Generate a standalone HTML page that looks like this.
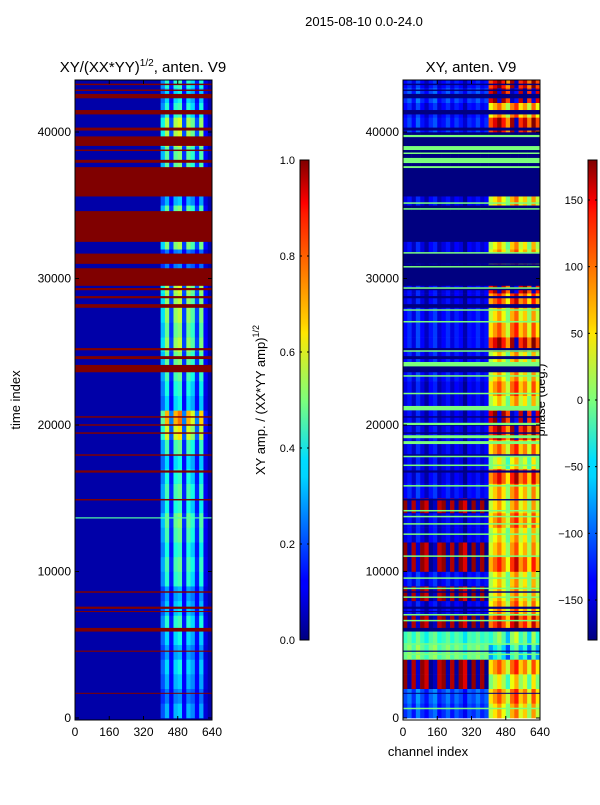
<!DOCTYPE html>
<html><head><meta charset="utf-8">
<style>
body{margin:0;background:#fff;width:600px;height:800px;overflow:hidden;font-family:"Liberation Sans",sans-serif}
svg text{font-family:"Liberation Sans",sans-serif;fill:#000}
</style></head>
<body>
<svg id="fig" width="600" height="800" xmlns="http://www.w3.org/2000/svg">
<defs>
<linearGradient id="jet" x1="0" y1="1" x2="0" y2="0">
<stop offset="0" stop-color="#000080"/><stop offset="0.11" stop-color="#0000ff"/><stop offset="0.125" stop-color="#0000ff"/>
<stop offset="0.34" stop-color="#00d4ff"/><stop offset="0.375" stop-color="#0df"/><stop offset="0.5" stop-color="#7dff7a"/>
<stop offset="0.64" stop-color="#ffe600"/><stop offset="0.66" stop-color="#ffd000"/><stop offset="0.89" stop-color="#ff1800"/><stop offset="0.91" stop-color="#f00"/><stop offset="1" stop-color="#800000"/>
</linearGradient>
</defs>
<text x="364" y="26" font-size="13" text-anchor="middle">2015-08-10 0.0-24.0</text>
<text x="143" y="72" font-size="15" text-anchor="middle">XY/(XX*YY)<tspan font-size="10" dy="-6">1/2</tspan><tspan dy="6">, anten. V9</tspan></text>
<text x="471" y="72" font-size="15" text-anchor="middle">XY, anten. V9</text>
<text transform="translate(20,400) rotate(-90)" font-size="13" text-anchor="middle">time index</text>
<text x="428" y="756" font-size="13" text-anchor="middle">channel index</text>
<text transform="translate(265,400) rotate(-90)" font-size="13" text-anchor="middle">XY amp. / (XX*YY amp)<tspan font-size="9" dy="-6">1/2</tspan></text>
<text transform="translate(545,400) rotate(-90)" font-size="13" text-anchor="middle">phase (deg.)</text>
<g id="left"></g>
<g id="right"></g>
<g id="axes"></g>
</svg>
<script>
// ---- data ----
const timeBins = 44; const binSize = 1000;
const ampLevel = [0.28,0.22,0.28,0.32,0.26,0.32,0.38,0.3,0.26,0.38,0.42,0.36,0.42,0.46,0.36,0.42,0.36,0.32,0.42,0.6,0.72,0.32,0.36,0.42,0.46,0.52,0.46,0.52,0.52,0.55,0.22,0.22,0.5,0.45,0.45,0.28,0.45,0.45,0.45,0.55,0.55,0.38,0.32,0.38];
const ampColProfile = [0,0,0,0,0,0,0,0,0,0,0,0,0,0,0,0,0,0,0,0,0.6,0.95,0.3,0.95,1.05,0.3,0.95,0.8,0.3,0.9,0.15,0];
const ampRedBands = [[23600,24100],[24500,24700],[25100,25250],[28000,28250],[28650,28800],[29200,29350],[29500,30700],[31000,31700],[32500,34600],[35600,37600],[37900,38100],[38700,38800],[39050,39700],[40100,40300],[41200,41500],[42300,42600],[42800,42900],[43200,43300],[20500,20600],[19950,20050],[19400,19500],[17900,18000],[16750,16900],[14850,14950],[8550,8650],[7450,7600],[7250,7300],[5900,6150],[4520,4600],[1650,1720]];
const phaseLeft = [-120,-110,175,175,-10,-30,175,-150,175,-140,175,175,-150,-150,175,-140,-150,-150,-150,-150,-150,-150,-150,-140,-140,-140,-140,-140,-150,-150,-180,-150,-150,-180,-180,-150,-180,-180,-180,-180,-130,-140,-120,-140];
const phaseRight = [30,60,0,60,-80,-40,100,50,30,20,80,40,20,60,30,40,90,0,60,120,150,20,60,30,20,120,60,30,80,140,-180,40,20,-180,-180,30,-180,-180,-180,-180,120,50,150,120];
const phaseColOffset = [0,20,-10,30,0,-20,10,25,-15,0,20,-10,15,0,-25,10,0,20,-5,10,0,30,60,20,-30,50,80,10,40,-20,60,0];
const greenBands = [[39650,39800],[38770,39040],[38500,38600],[37880,38230],[37540,37670],[35100,35200],[34700,34800],[31700,31800],[30750,30850],[29300,29400],[27800,27900],[27000,27100],[25000,25100],[24000,24300],[23300,23400],[22100,22200],[21000,21300],[20000,20150],[19100,19300],[18700,18900],[17800,17900],[17200,17300],[15800,15900],[14100,14200],[13700,13800],[13200,13300],[12500,12600],[11000,11100],[9500,9600],[8800,8900],[8200,8300],[7000,7100],[6600,6700],[5000,5100],[4300,4400],[600,700]];
const xTicks = [0,160,320,480,640];
const yTicks = [0,10000,20000,30000,40000];
const ampTicks = [0.0,0.2,0.4,0.6,0.8,1.0];
const phaseTicks = [-150,-100,-50,0,50,100,150];
// ---- helpers ----
const NS="http://www.w3.org/2000/svg";
function jet(v){v=Math.max(0,Math.min(1,v));
 const f=(pts)=>{for(let i=1;i<pts.length;i++){if(v<=pts[i][0]){const a=pts[i-1],b=pts[i];return a[1]+(b[1]-a[1])*(v-a[0])/(b[0]-a[0]);}}return pts[pts.length-1][1];};
 const r=f([[0,0],[0.35,0],[0.66,1],[0.89,1],[1,0.5]]),g=f([[0,0],[0.125,0],[0.375,1],[0.64,1],[0.91,0],[1,0]]),b=f([[0,0.5],[0.11,1],[0.34,1],[0.65,0],[1,0]]);
 return `rgb(${Math.round(r*255)},${Math.round(g*255)},${Math.round(b*255)})`;}
const yS=t=>718-t*0.01465;
const TOP=80,BOT=720;
function xS(x0){return c=>x0+c*137/640;}
function rect(g,x,y,w,h,fill){const r=document.createElementNS(NS,'rect');r.setAttribute('x',x);r.setAttribute('y',y);r.setAttribute('width',w);r.setAttribute('height',h);r.setAttribute('fill',fill);g.appendChild(r);return r;}
function wrap(p){while(p>180)p-=360;while(p<-180)p+=360;return p;}
// ---- left amplitude ----
const gl=document.getElementById('left');const xl=xS(75);
rect(gl,75,TOP,137,BOT-TOP,jet(0.035));
for(let i=0;i<timeBins;i++){for(let j=0;j<ampColProfile.length;j++){
 const v=0.035+ampColProfile[j]*ampLevel[i];
 const y0=Math.max(TOP,yS((i+1)*binSize)),y1=Math.min(BOT,yS(i*binSize));
 if(y1<=y0)continue;
 const r=rect(gl,xl(j*20),y0,xl((j+1)*20)-xl(j*20)+0.3,y1-y0+0.3,jet(v));
 
 
}}
ampRedBands.forEach(b=>{const y0=Math.max(TOP,yS(b[1])),y1=yS(b[0]);
 const r=rect(gl,75,y0,137,Math.max(1,y1-y0),jet(1));
 
 });
{const r=rect(gl,75,yS(13700),137,1.2,jet(0.45));}
// ---- right phase ----
const gr=document.getElementById('right');const xr=xS(403);
for(let i=0;i<timeBins;i++){for(let j=0;j<phaseColOffset.length;j++){
 const base=j<20?phaseLeft[i]:phaseRight[i];
 const p=base<=-180?-180:wrap(base+phaseColOffset[j]);
 const y0=Math.max(TOP,yS((i+1)*binSize)),y1=Math.min(BOT,yS(i*binSize));
 if(y1<=y0)continue;
 const r=rect(gr,xr(j*20),y0,xr((j+1)*20)-xr(j*20)+0.3,y1-y0+0.3,jet((p+180)/360));
 
 
}}
ampRedBands.forEach(b=>{const y0=Math.max(TOP,yS(b[1])),y1=yS(b[0]);
 const r=rect(gr,403,y0,137,Math.max(1,y1-y0),jet(0));
 
 });
greenBands.forEach(b=>{const y0=Math.max(TOP,yS(b[1])),y1=yS(b[0]);
 const r=rect(gr,403,y0,137,Math.max(1.5,y1-y0),jet(0.5));
 
 });
// ---- axes ----
const ga=document.getElementById('axes');
function line(x1,y1,x2,y2){const l=document.createElementNS(NS,'line');l.setAttribute('x1',x1);l.setAttribute('y1',y1);l.setAttribute('x2',x2);l.setAttribute('y2',y2);l.setAttribute('stroke','#000');l.setAttribute('stroke-width','1');ga.appendChild(l);return l;}
function text(x,y,s,anchor){const t=document.createElementNS(NS,'text');t.setAttribute('x',x);t.setAttribute('y',y);t.setAttribute('font-size','12');t.setAttribute('text-anchor',anchor);t.textContent=s;ga.appendChild(t);return t;}
[[75,xl],[403,xr]].forEach(([x0,xs])=>{
 const f=rect(ga,x0,TOP,137,BOT-TOP,'none');f.setAttribute('stroke','#000');
 
 
 xTicks.forEach(v=>{const x=xs(v);line(x,BOT,x,BOT-4);line(x,TOP,x,TOP+4);
  const t=text(x,736,String(v),'middle');
  
  });
 yTicks.forEach(v=>{const y=yS(v);line(x0,y,x0+4,y);line(x0+137,y,x0+133,y);
  const t=text(x0-4,y+4,String(v),'end');
  
  });
});
function colorbar(x,ticks,mn,mx,name){
 const r=rect(ga,x,160,9,480,'url(#jet)');r.setAttribute('stroke','#000');
 
 
 ticks.forEach(v=>{const y=640-(v-mn)/(mx-mn)*480;line(x,y,x+2,y);line(x+9,y,x+7,y);
  const lbl=(name==='amp-colorbar')?v.toFixed(1):(v<0?'\u2212'+(-v):String(v));
  const t=text(x-5,y+4,lbl,'end');t.setAttribute('font-size','11');
  
  });
}
colorbar(300,ampTicks,0,1,'amp-colorbar');
colorbar(588,phaseTicks,-180,180,'phase-colorbar');
</script>
</body></html>
